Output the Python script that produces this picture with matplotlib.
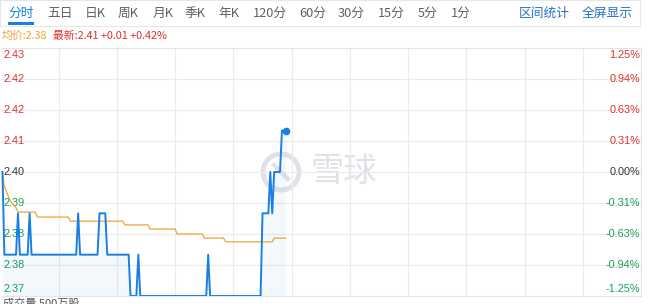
import matplotlib
matplotlib.use('Agg')
import matplotlib.pyplot as plt
from matplotlib.patches import Rectangle, Ellipse
from matplotlib.transforms import blended_transform_factory, offset_copy

plt.rcParams['font.family'] = ['Noto Sans CJK SC', 'DejaVu Sans']

# ---- data ----
base_price = 2.40
price_step = 0.0075
left_labels = ['2.43', '2.42', '2.42', '2.41', '2.40', '2.39', '2.38', '2.38', '2.37']
right_labels = ['1.25%', '0.94%', '0.63%', '0.31%', '0.00%', '-0.31%', '-0.63%', '-0.94%', '-1.25%']

tabs = ['分时', '五日', '日K', '周K', '月K', '季K', '年K', '120分', '60分', '30分', '15分', '5分', '1分']
tools = ['区间统计', '全屏显示']

# minutes from open (HK session, 330 minutes)
price_min = [1, 2, 8, 9, 10, 14, 15, 16, 39, 40, 41, 50, 51, 54, 55, 66, 67, 70, 71, 72,
             106, 107, 108, 134, 135, 138, 139, 140, 141, 144, 145, 147]
price_val = [2.40, 2.38, 2.38, 2.39, 2.38, 2.38, 2.39, 2.38, 2.38, 2.39, 2.38, 2.38, 2.39, 2.39,
             2.38, 2.38, 2.37, 2.37, 2.38, 2.37, 2.37, 2.38, 2.37, 2.37, 2.39, 2.39, 2.40, 2.39,
             2.40, 2.40, 2.41, 2.41]

avg_min = [1, 2, 5, 8, 9, 18, 19, 35, 36, 63, 64, 76, 77, 90, 91, 104, 105, 115, 116, 140, 141, 147]
avg_val = [2.3998, 2.3965, 2.3930, 2.3913, 2.3903, 2.3903, 2.3891, 2.3891, 2.3881, 2.3881,
           2.3872, 2.3872, 2.3862, 2.3862, 2.3850, 2.3850, 2.3840, 2.3840, 2.3831, 2.3831,
           2.3840, 2.3840]

avg_text = '均价:2.38'
last_text = '最新:2.41 +0.01 +0.42%'

# ---- layout ----
W, H = 650, 304
RED = '#e0302b'
GREEN = '#18a058'
GRID = '#ebebeb'
WM = '#dfe3e9'

def fx(x):
    return x / W

def fy(y):
    return 1 - y / H

fig = plt.figure(figsize=(W / 100, H / 100), dpi=100)
fig.patch.set_facecolor('white')

ax = fig.add_axes([fx(0.5), fy(296), (641 - 0.5) / W, (296 - 48) / H])
ax.set_xlim(0, 330)
ax.set_ylim(base_price - 4 * price_step, base_price + 4 * price_step)
ax.set_xticks(range(30, 330, 30))
ax.set_yticks([base_price + k * price_step for k in range(-3, 4)])
ax.tick_params(length=0, labelbottom=False, labelleft=False)
ax.grid(True, color=GRID, lw=0.8)
for s in ax.spines.values():
    s.set_color('#e4e4e4')
    s.set_linewidth(0.8)
ax.spines['left'].set_visible(False)
ax.set_facecolor('white')

# watermark (under the lines)
ax.add_patch(Ellipse((fx(281), fy(172)), 36 / W, 36 / H, transform=fig.transFigure, fill=False,
                     ec=WM, lw=3.6, zorder=1.2, clip_on=False))
ax.plot([fx(274), fx(288)], [fy(165), fy(179)], transform=fig.transFigure, color=WM,
        lw=3.2, zorder=1.2, clip_on=False)
ax.text(fx(344), fy(171), '雪球', transform=fig.transFigure, fontsize=24, color=WM,
        ha='center', va='center', zorder=1.2)

# lines
ax.fill_between(price_min, price_val, ax.get_ylim()[0], color='#1e88e5', alpha=0.05, lw=0, zorder=2)
ax.plot(avg_min, avg_val, color='#f0a332', lw=0.9, zorder=3)
ax.plot(price_min, price_val, color='#1a7fe3', lw=1.4, zorder=4)
ax.plot(price_min[-1:], price_val[-1:], 'o', color='#1a7fe3', ms=4.5, zorder=5)

# axis labels
tl = blended_transform_factory(ax.transAxes, ax.transData)
for i, (ll, rl) in enumerate(zip(left_labels, right_labels)):
    k = 4 - i
    v = base_price + k * price_step
    col = RED if k > 0 else (GREEN if k < 0 else '#333333')
    dy = -7 if k == 4 else (7 if k == -4 else 0)
    tr = offset_copy(tl, fig=fig, y=dy, units='dots')
    ax.text(3 / 641, v, ll, transform=tr, ha='left', va='center', color=col, fontsize=7.8,
            family=['Liberation Sans'], zorder=1.8)
    ax.text(1 - 1 / 641, v, rl, transform=tr, ha='right', va='center', color=col, fontsize=7.8,
            family=['Liberation Sans'], zorder=1.8)

# tab bar
fig.patches.append(Rectangle((fx(0), fy(26)), fx(640), 26 / H, transform=fig.transFigure,
                             fill=False, ec='#e6e6e6', lw=0.8))
tab_x = [8, 47, 85, 118, 153, 185, 218, 253, 299, 338, 378, 418, 451]
for t, x in zip(tabs, tab_x):
    fig.text(fx(x), fy(13), t, fontsize=9.2, color='#1a7fe3' if t == '分时' else '#606060',
             ha='left', va='center')
fig.patches.append(Rectangle((fx(8), fy(25)), 26 / W, 2.5 / H, transform=fig.transFigure,
                             color='#1a7fe3', lw=0))
for t, x in zip(tools, [519, 582]):
    fig.text(fx(x), fy(13), t, fontsize=9.2, color='#2a6fc6', ha='left', va='center')

# info row
fig.text(fx(2), fy(35.5), avg_text, fontsize=7.8, color='#eea236', ha='left', va='center')
fig.text(fx(53), fy(35.5), last_text, fontsize=7.8, color=RED, ha='left', va='center')

# volume caption (cut off at the bottom like the page)
fig.text(fx(3), fy(298), '成交量 500万股', fontsize=8, color='#555555', ha='left', va='top')

fig.savefig('out.png', dpi=100, facecolor='white')
